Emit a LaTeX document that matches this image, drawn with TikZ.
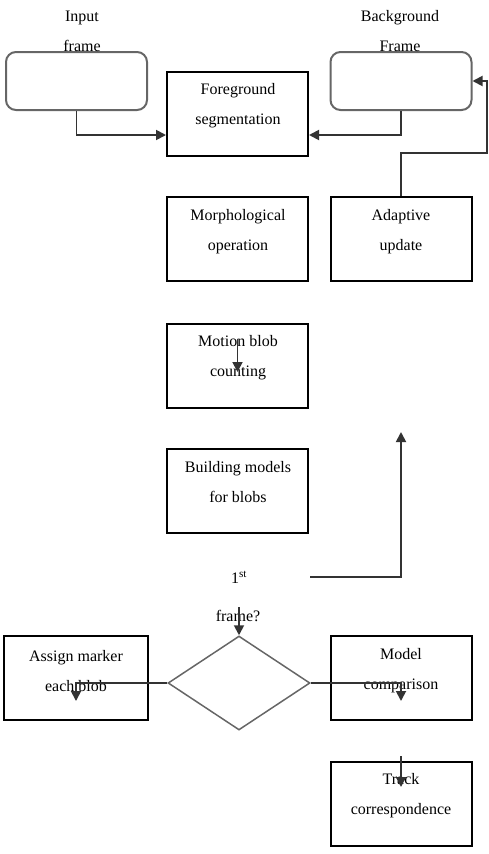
\documentclass[tikz,border=0pt]{standalone}
\usepackage{fontspec}
\setmainfont{Liberation Serif}
\usetikzlibrary{arrows.meta,shapes.geometric}
\begin{document}
\begin{tikzpicture}[x=1pt,y=-1pt,
 box/.style={draw=black,line width=2pt,minimum width=141pt,minimum height=84pt,inner sep=0pt},
 rbox/.style={draw=black!60,line width=2pt,rounded corners=10pt,minimum width=141pt,minimum height=58pt,inner sep=0pt},
 lbl/.style={font=\fontsize{16}{30}\selectfont,align=center,inner sep=0pt},
 conn/.style={draw=black!80,line width=1.8pt},
 arr/.style={conn,-{Triangle[length=10pt,width=10pt]}}]
\useasboundingbox (0,0) rectangle (488,854);

\node[rbox] (inp) at (76.5,81) {};
\node[lbl] (inpt) at (82,31) {Input\\frame};
\node[rbox] (bg) at (401,81) {};
\node[lbl] (bgt) at (400,31) {Background\\Frame};

\node[box] (fg) at (237.5,113.5) {};
\node[lbl] (fgt) at (238,106) {Foreground\\segmentation};
\node[box] (mo) at (237.5,239) {};
\node[lbl] (mot) at (238,232) {Morphological\\operation};
\node[box] (au) at (401,239) {};
\node[lbl] (aut) at (401,232) {Adaptive\\update};
\node[box] (mb) at (237.5,366) {};
\node[lbl] (mbt) at (238,358) {Motion blob\\counting};
\node[box] (bm) at (237.5,491) {};
\node[lbl] (bmt) at (238,482) {Building models\\for blobs};

\node[lbl] (q1) at (239,577) {1\textsuperscript{st}};
\node[lbl] (q2) at (238,616) {frame?};
\node[diamond,draw=black!60,line width=1.5pt,minimum width=142pt,minimum height=94pt,inner sep=0pt] (dec) at (239,683) {};

\node[box,minimum width=144pt] (am) at (76,678) {};
\node[lbl] (amt) at (76,671) {Assign marker\\each blob};
\node[box] (mc) at (401,678) {};
\node[lbl] (mct) at (401,671) {Model\\comparison};
\node[box] (tc) at (401,804) {};
\node[lbl] (tct) at (401,796) {Track\\correspondence};

\coordinate (c1) at (487,153);
\coordinate (s1) at (310,577);
\coordinate (s2) at (401,432);
\coordinate (al) at (76,701);
\coordinate (ar) at (401,701);

\draw[arr] (inp.south) |- ([yshift=-21.5pt]fg.west);
\draw[arr] (bg.south) |- ([yshift=-21.5pt]fg.east);
\draw[arr] (au.north) |- (c1) |- (bg.east);
\draw[arr] ([yshift=-16pt]mb.north) -- ([yshift=-49pt]mb.north);
\draw[arr] (s1) -| (s2);
\draw[arr] ([yshift=28pt]dec.north) -- (dec.north);
\draw[arr] (dec.west) -| (al);
\draw[arr] (dec.east) -| (ar);
\draw[arr] ([yshift=5pt]tc.north) -- ([yshift=-26pt]tc.north);
\end{tikzpicture}
\end{document}
